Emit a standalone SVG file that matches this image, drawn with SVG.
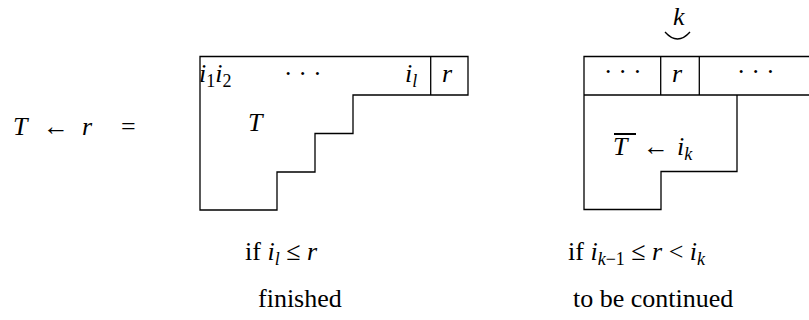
<svg xmlns="http://www.w3.org/2000/svg" width="809" height="320" viewBox="0 0 809 320">
<rect width="809" height="320" fill="#fff"/>
<g id="tableau-finished">
  <path fill="none" stroke="#000" stroke-width="1.3" d="M200,56.5 H468 V95 H353 V133.5 H315 V172 H277 V210 H200 Z"/>
  <line stroke="#000" stroke-width="1.3" x1="430.7" y1="56.5" x2="430.7" y2="95"/>
</g>
<g id="tableau-continued">
  <path fill="none" stroke="#000" stroke-width="1.3" d="M809,56.5 H584 V209.5 H661 V171.5 H737 V95"/>
  <line stroke="#000" stroke-width="1.3" x1="584" y1="95" x2="809" y2="95"/>
  <line stroke="#000" stroke-width="1.3" x1="660.7" y1="56.5" x2="660.7" y2="95"/>
  <line stroke="#000" stroke-width="1.3" x1="699.3" y1="56.5" x2="699.3" y2="95"/>
  <path fill="none" stroke="#000" stroke-width="1.3" d="M665,32 Q677.5,46 690,32"/>
  <line x1="614" y1="134" x2="636" y2="134" stroke="#000" stroke-width="2"/>
</g>
<text x="13" y="135" font-family="Liberation Serif" font-size="26" font-style="italic">T</text>
<text x="43" y="135" font-family="Liberation Serif" font-size="26">←</text>
<text x="82" y="135" font-family="Liberation Serif" font-size="26" font-style="italic">r</text>
<text x="121" y="135" font-family="Liberation Serif" font-size="26">=</text>
<text x="199" y="82" font-family="Liberation Serif" font-size="26" font-style="italic">i<tspan font-size="18" font-style="normal" dy="5">1</tspan><tspan dy="-5">i</tspan><tspan font-size="18" font-style="normal" dy="5">2</tspan></text>
<text x="284" y="82" font-family="Liberation Serif" font-size="25">· · ·</text>
<text x="405" y="82" font-family="Liberation Serif" font-size="26" font-style="italic">i<tspan font-size="18" dy="5">l</tspan></text>
<text x="442" y="82" font-family="Liberation Serif" font-size="26" font-style="italic">r</text>
<text x="248" y="131" font-family="Liberation Serif" font-size="26" font-style="italic">T</text>
<text x="604" y="80" font-family="Liberation Serif" font-size="25">· · ·</text>
<text x="672" y="82" font-family="Liberation Serif" font-size="26" font-style="italic">r</text>
<text x="737" y="80" font-family="Liberation Serif" font-size="25">· · ·</text>
<text x="673" y="25" font-family="Liberation Serif" font-size="26" font-style="italic">k</text>
<text x="613" y="155" font-family="Liberation Serif" font-size="26" font-style="italic">T</text>
<text x="643" y="155" font-family="Liberation Serif" font-size="26">←</text>
<text x="677" y="155" font-family="Liberation Serif" font-size="26" font-style="italic">i<tspan font-size="18" dy="5">k</tspan></text>
<text x="245" y="260" font-family="Liberation Serif" font-size="26">if <tspan font-style="italic">i</tspan><tspan font-style="italic" font-size="18" dy="5">l</tspan><tspan dy="-5"> ≤ </tspan><tspan font-style="italic">r</tspan></text>
<text x="258" y="307" font-family="Liberation Serif" font-size="26">finished</text>
<text x="568" y="260" font-family="Liberation Serif" font-size="26">if <tspan font-style="italic">i</tspan><tspan font-style="italic" font-size="18" dy="5">k</tspan><tspan font-size="18" >−1</tspan><tspan dy="-5"> ≤ </tspan><tspan font-style="italic">r</tspan> &lt; <tspan font-style="italic">i</tspan><tspan font-style="italic" font-size="18" dy="5">k</tspan></text>
<text x="573" y="307" font-family="Liberation Serif" font-size="26">to be continued</text>
</svg>
